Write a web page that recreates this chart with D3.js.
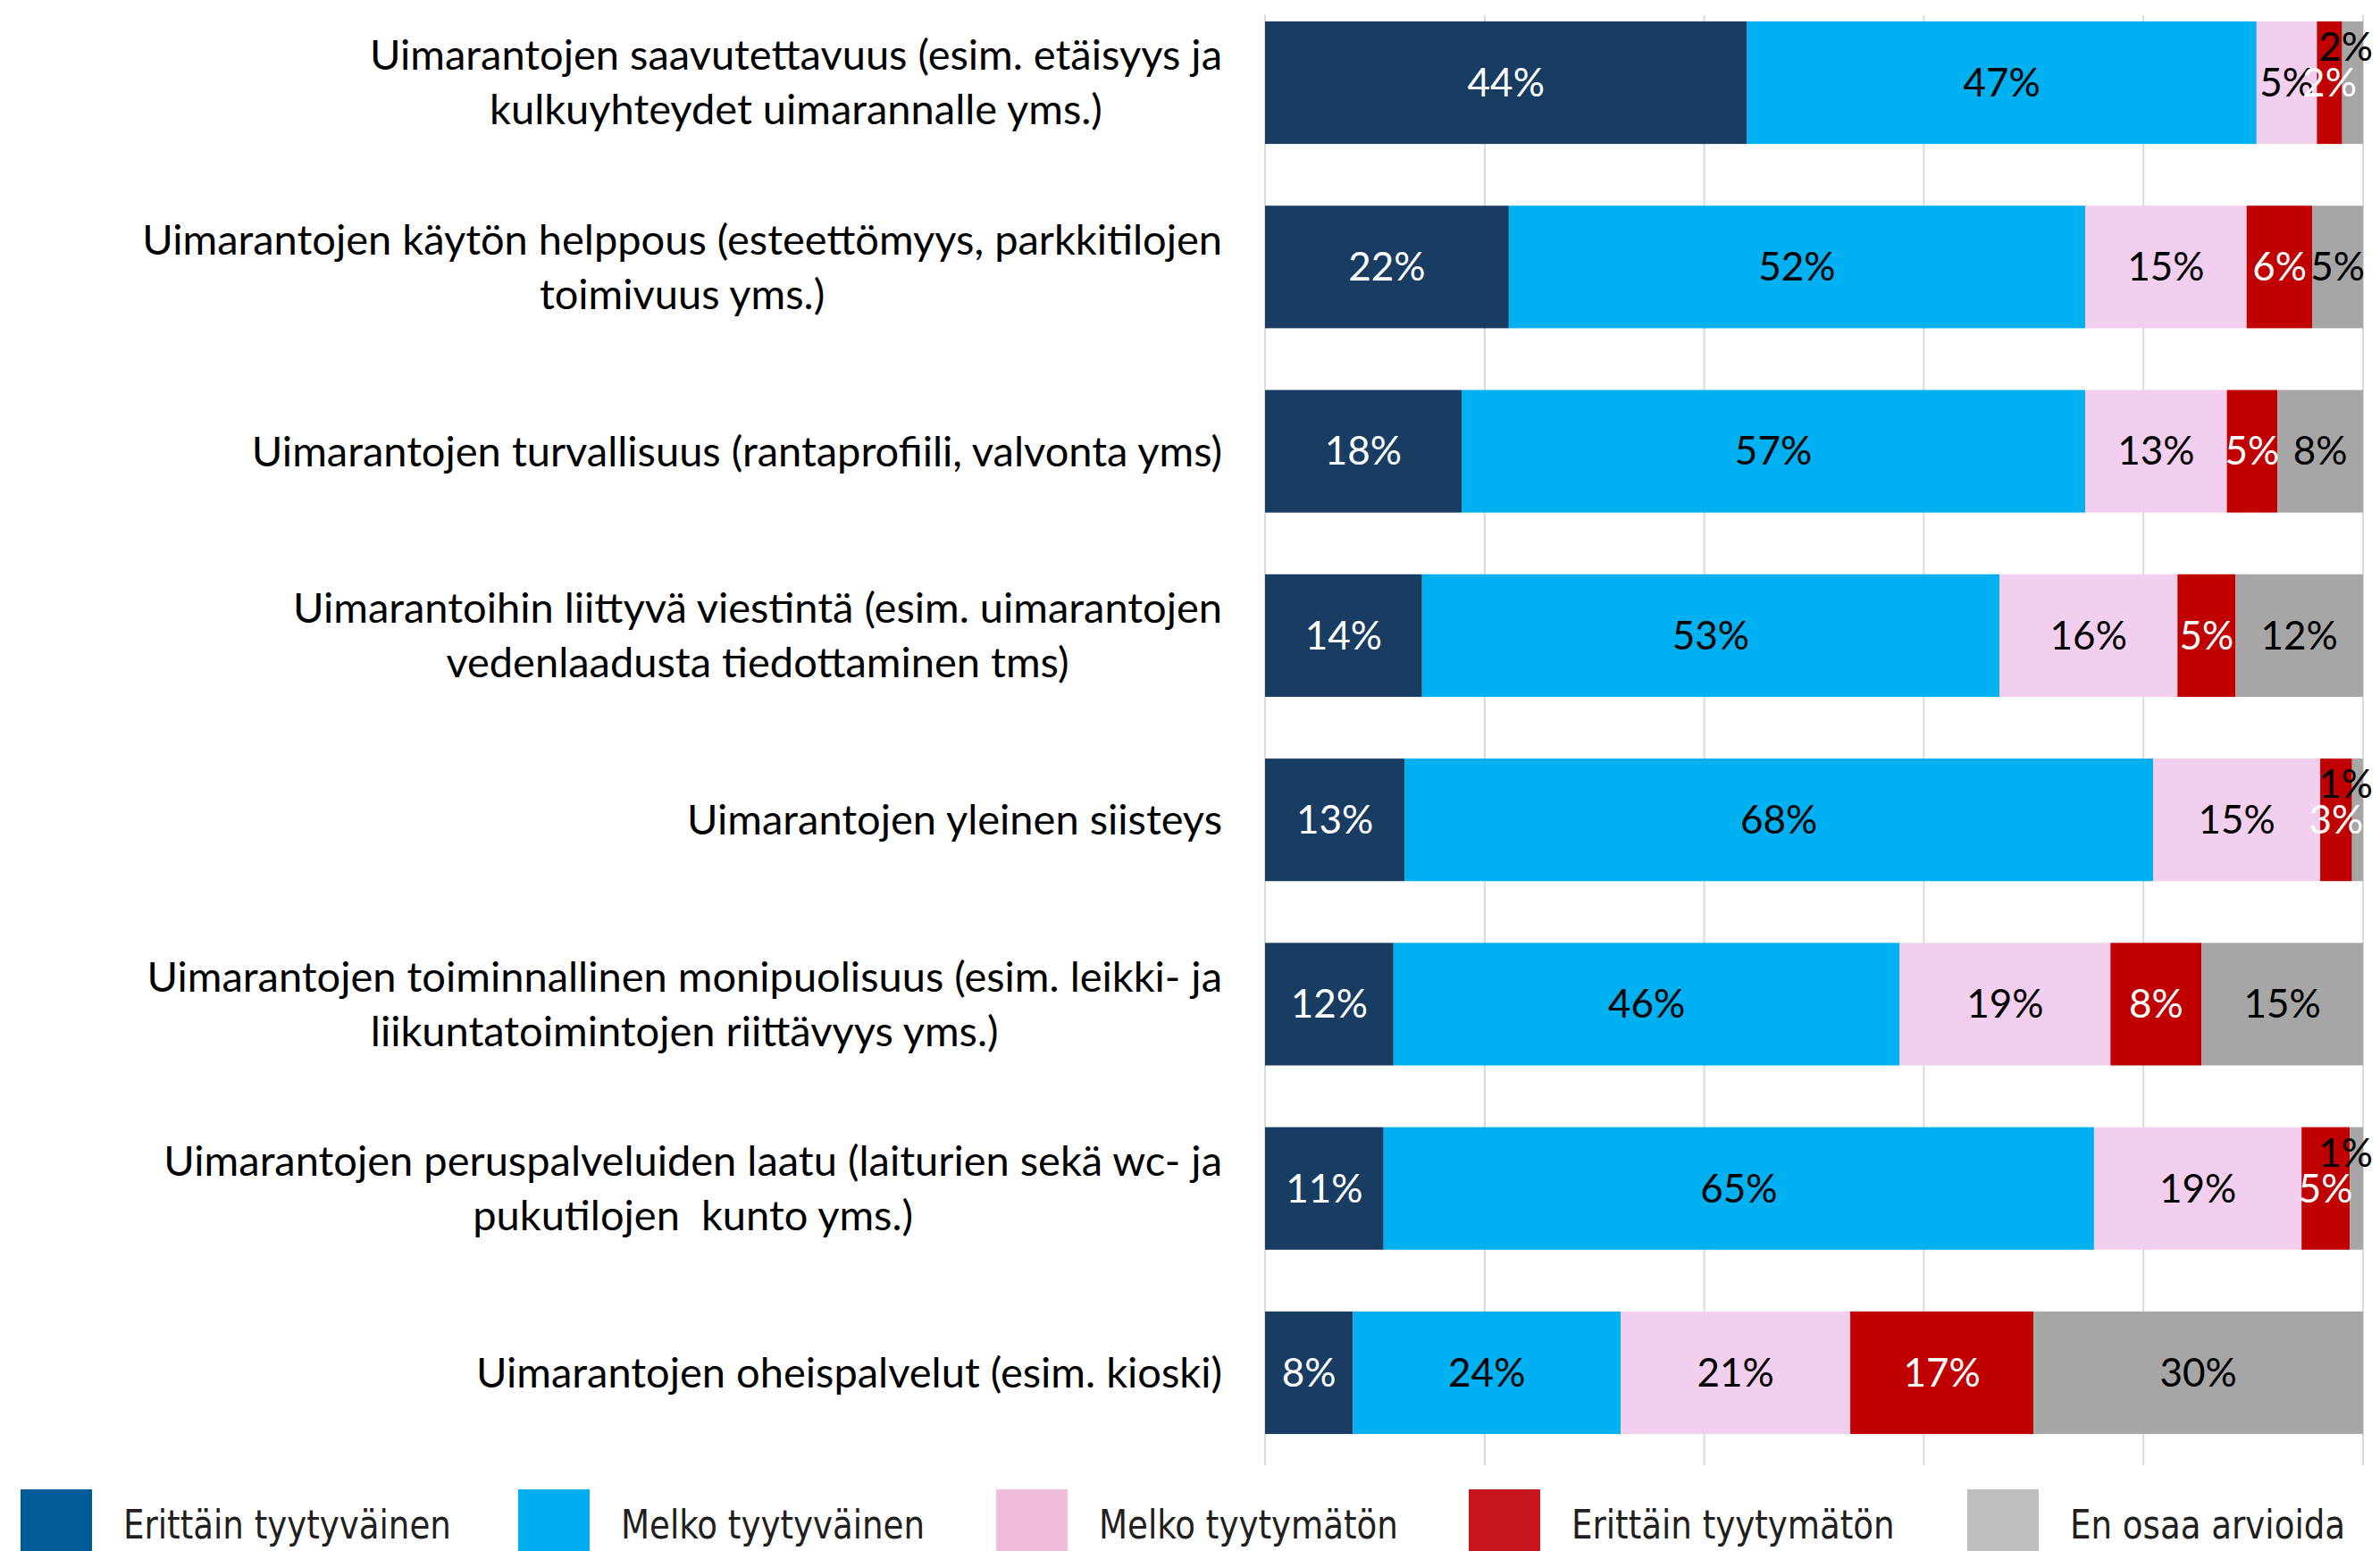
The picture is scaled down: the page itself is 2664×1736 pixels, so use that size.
<!DOCTYPE html>
<html>
<head>
<meta charset="utf-8">
<script src="https://cdn.jsdelivr.net/npm/d3@7"></script>
<style>
  html, body { margin: 0; padding: 0; background: #fff; }
  svg { display: block; }
</style>
</head>
<body>
<svg id="chart" width="2664" height="1736"></svg>
<script>
// ---- data ----
const categories = [
  ["Uimarantojen saavutettavuus (esim. etäisyys ja", "kulkuyhteydet uimarannalle yms.)"],
  ["Uimarantojen käytön helppous (esteettömyys, parkkitilojen", "toimivuus yms.)"],
  ["Uimarantojen turvallisuus (rantaprofiili, valvonta yms)"],
  ["Uimarantoihin liittyvä viestintä (esim. uimarantojen", "vedenlaadusta tiedottaminen tms)"],
  ["Uimarantojen yleinen siisteys"],
  ["Uimarantojen toiminnallinen monipuolisuus (esim. leikki- ja", "liikuntatoimintojen riittävyys yms.)"],
  ["Uimarantojen peruspalveluiden laatu (laiturien sekä wc- ja", "pukutilojen  kunto yms.)"],
  ["Uimarantojen oheispalvelut (esim. kioski)"]
];
const seriesNames = ["Erittäin tyytyväinen", "Melko tyytyväinen", "Melko tyytymätön", "Erittäin tyytymätön", "En osaa arvioida"];
// segment widths (percent)
const erittainTyytyvainen = [43.9, 22.2, 17.9, 14.3, 12.7, 11.7, 10.8, 8.0];
const melkoTyytyvainen    = [46.4, 52.5, 56.8, 52.6, 68.2, 46.1, 64.7, 24.4];
const melkoTyytymaton     = [5.5, 14.7, 12.9, 16.2, 15.2, 19.2, 18.9, 20.9];
const erittainTyytymaton  = [2.3, 6.0, 4.6, 5.3, 2.9, 8.3, 4.4, 16.7];
const enOsaaArvioida      = [1.9, 4.6, 7.8, 11.6, 1.0, 14.7, 1.2, 30.0];
// data labels shown on the bars
const labelsErittainTyytyvainen = ["44%", "22%", "18%", "14%", "13%", "12%", "11%", "8%"];
const labelsMelkoTyytyvainen    = ["47%", "52%", "57%", "53%", "68%", "46%", "65%", "24%"];
const labelsMelkoTyytymaton     = ["5%", "15%", "13%", "16%", "15%", "19%", "19%", "21%"];
const labelsErittainTyytymaton  = ["2%", "6%", "5%", "5%", "3%", "8%", "5%", "17%"];
const labelsEnOsaaArvioida      = ["2%", "5%", "8%", "12%", "1%", "15%", "1%", "30%"];
const xTicks = [0, 20, 40, 60, 80, 100];

// ---- styles ----
const barColors = ["#193c63", "#00b0f0", "#f2cfee", "#c00000", "#a6a6a6"];
const labelColors = ["#ffffff", "#000000", "#000000", "#ffffff", "#000000"];
const legendColors = ["#005b98", "#00aeef", "#efbdd9", "#c8161d", "#bcbec0"];
const labelFont = "Lato, 'Open Sans', sans-serif";

const seriesValues = [erittainTyytyvainen, melkoTyytyvainen, melkoTyytymaton, erittainTyytymaton, enOsaaArvioida];
const seriesLabels = [labelsErittainTyytyvainen, labelsMelkoTyytyvainen, labelsMelkoTyytymaton, labelsErittainTyytymaton, labelsEnOsaaArvioida];

const svg = d3.select("#chart");

const x = d3.scaleLinear().domain([0, 100]).range([1416, 2645]);
const y = d3.scaleBand().domain(d3.range(categories.length))
  .range([-10.6, 1639.6]).paddingInner(0.335).paddingOuter(0.1675);

// gridlines
svg.append("g").selectAll("line").data(xTicks).join("line")
  .attr("x1", d => x(d)).attr("x2", d => x(d))
  .attr("y1", 17).attr("y2", 1640)
  .attr("stroke", "#d9d9d9").attr("stroke-width", 2);

// stacked data
const rows = categories.map((c, i) => {
  const o = { i };
  seriesValues.forEach((s, k) => o["s" + k] = s[i]);
  return o;
});
const stack = d3.stack().keys(seriesValues.map((s, k) => "s" + k));
const stacked = stack(rows);

const gBars = svg.append("g");
stacked.forEach((layer, k) => {
  gBars.append("g").attr("fill", barColors[k]).selectAll("rect").data(layer).join("rect")
    .attr("x", d => x(d[0]))
    .attr("y", (d, i) => y(i))
    .attr("width", d => x(d[1]) - x(d[0]))
    .attr("height", y.bandwidth());
});

// bar labels
const gLab = svg.append("g").attr("font-family", labelFont).attr("font-size", 44);
stacked.forEach((layer, k) => {
  layer.forEach((d, i) => {
    const cx = (x(d[0]) + x(d[1])) / 2;
    let cy = y(i) + y.bandwidth() / 2;
    const small = k === 4 && (d[1] - d[0]) < 3;
    if (small) cy -= 40;
    const t = gLab.append("text")
      .attr("x", cx).attr("y", cy)
      .attr("dy", "0.35em")
      .attr("text-anchor", "middle")
      .attr("fill", labelColors[k])
      .text(seriesLabels[k][i]);
    const w = t.node().getComputedTextLength();
    if (cx + w / 2 > 2656) t.attr("x", 2656 - w / 2);
  });
});

// category labels
const gCat = svg.append("g").attr("font-family", labelFont).attr("font-size", 47).attr("fill", "#000");
const rightEdge = 1368;
const lineH = 61;
categories.forEach((lines, i) => {
  const cy = y(i) + y.bandwidth() / 2;
  const g = gCat.append("g");
  const texts = lines.map((ln, j) => g.append("text")
    .attr("y", cy + (j - (lines.length - 1) / 2) * lineH)
    .attr("dy", "0.35em")
    .attr("text-anchor", "middle")
    .attr("xml:space", "preserve")
    .style("white-space", "pre")
    .text(ln));
  const maxW = d3.max(texts, t => t.node().getComputedTextLength());
  texts.forEach(t => t.attr("x", rightEdge - maxW / 2));
});

// legend
const legendX = [23, 580, 1115, 1644, 2202];
const gLeg = svg.append("g").attr("font-family", "'Liberation Sans Narrow', 'DejaVu Sans Condensed', sans-serif")
  .attr("font-size", 45).attr("fill", "#231f20");
// measure first legend text to condense the font to the reference width
const probe = gLeg.append("text").text(seriesNames[0]);
const sx = 367 / probe.node().getComputedTextLength();
probe.remove();
seriesNames.forEach((name, k) => {
  gLeg.append("rect").attr("x", legendX[k]).attr("y", 1667).attr("width", 80).attr("height", 80)
    .attr("fill", legendColors[k]);
  gLeg.append("text")
    .attr("transform", `translate(${legendX[k] + 115},1722) scale(${sx},1)`)
    .text(name);
});
</script>
</body>
</html>
